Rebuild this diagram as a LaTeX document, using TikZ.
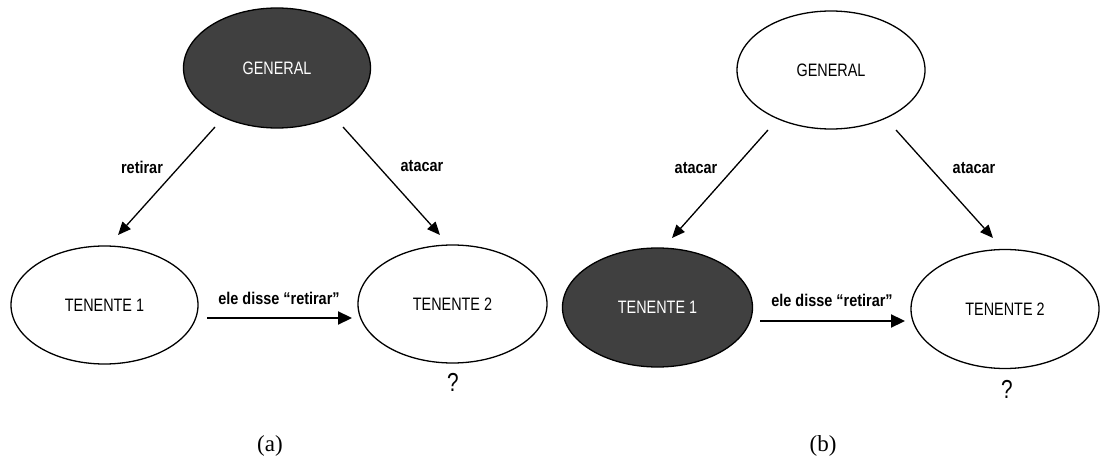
\documentclass[tikz,border=0pt]{standalone}
\usepackage{fontspec}
\usetikzlibrary{shapes.geometric,arrows.meta}
\newfontfamily\narrowfont{Liberation Sans}[FakeStretch=0.8]
\newfontfamily\labelfont{Liberation Sans}[FakeStretch=0.85]
\newfontfamily\capfont{Liberation Serif}
\definecolor{darkfill}{HTML}{404040}
\tikzset{
  ell/.style={ellipse, draw=black, line width=1.3pt, inner sep=0pt,
    font=\narrowfont\fontsize{18}{20}\selectfont},
  lightell/.style={ell, fill=white, text=black},
  darkell/.style={ell, fill=darkfill, text=white},
  diag/.style={line width=1.3pt, -{Triangle[length=13pt,width=11pt]}},
  horiz/.style={line width=2.2pt, -{Triangle[length=14pt,width=13pt]}},
  lbl/.style={font=\labelfont\bfseries\fontsize{17}{19}\selectfont, inner sep=0pt},
  qmark/.style={font=\narrowfont\fontsize{26}{28}\selectfont, inner sep=0pt},
  caption/.style={font=\capfont\fontsize{23}{25}\selectfont, inner sep=0pt}
}
\begin{document}
\begin{tikzpicture}[x=1pt,y=-1pt]
\useasboundingbox (0,0) rectangle (1100,462);
% panel (a)
\node[darkell, minimum width=187pt, minimum height=120pt] (ga) at (277,68) {GENERAL};
\node[lightell, minimum width=187pt, minimum height=118pt] (t1a) at (104.5,305) {TENENTE 1};
\node[lightell, minimum width=189pt, minimum height=118pt] (t2a) at (452.5,304) {TENENTE 2};
\coordinate (ga1) at (215,127);
\coordinate (ga1e) at (118,235);
\coordinate (ga2) at (343,127);
\coordinate (ga2e) at (440,235);
\draw[diag] (ga1) -- (ga1e);
\draw[diag] (ga2) -- (ga2e);
\coordinate (ha1) at (207,318);
\coordinate (ha2) at (352,318);
\draw[horiz] (ha1) -- (ha2);
\node[lbl] (la1) at (142,167) {retirar};
\node[lbl] (la2) at (422,166) {atacar};
\node[lbl] (la3) at (279,298) {ele disse “retirar”};
\node[qmark] (qa) at (453,382) {?};
\node[caption] (capa) at (270,446) {(a)};
% panel (b)
\node[lightell, minimum width=188pt, minimum height=118pt] (gb) at (831,70) {GENERAL};
\node[darkell, minimum width=190pt, minimum height=119pt] (t1b) at (657.5,307.5) {TENENTE 1};
\node[lightell, minimum width=188pt, minimum height=119pt] (t2b) at (1005,309) {TENENTE 2};
\coordinate (gb1) at (768,130);
\coordinate (gb1e) at (672,238);
\coordinate (gb2) at (896,130);
\coordinate (gb2e) at (993,238);
\draw[diag] (gb1) -- (gb1e);
\draw[diag] (gb2) -- (gb2e);
\coordinate (hb1) at (760,321);
\coordinate (hb2) at (905,321);
\draw[horiz] (hb1) -- (hb2);
\node[lbl] (lb1) at (696,168) {atacar};
\node[lbl] (lb2) at (974,168) {atacar};
\node[lbl] (lb3) at (832,300) {ele disse “retirar”};
\node[qmark] (qb) at (1007,389) {?};
\node[caption] (capb) at (823,446) {(b)};
\end{tikzpicture}
\end{document}
